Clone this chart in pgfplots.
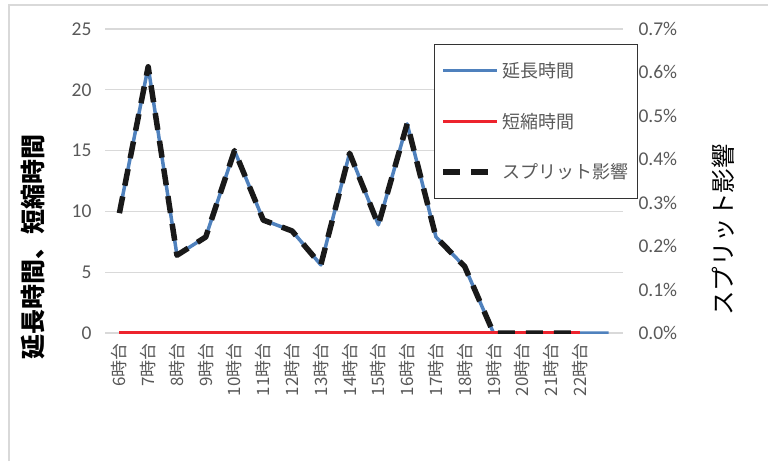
\documentclass[border=0pt]{standalone}
\usepackage{pgfplots}
\pgfplotsset{compat=1.18}
\usepackage{fontspec}
\setmainfont{Carlito}
\newfontfamily\cjk{Noto Sans CJK JP}
\definecolor{gridgray}{RGB}{217,217,217}
\definecolor{txtgray}{RGB}{89,89,89}
\definecolor{lineblue}{RGB}{79,129,189}
\definecolor{linered}{RGB}{237,35,45}
\begin{document}
\begin{tikzpicture}
\path[use as bounding box] (0pt,0pt) rectangle (768pt,461pt);
\draw[gridgray, line width=1.5pt] (9pt,0pt) -- (9pt,456pt) -- (768pt,456pt);
\begin{axis}[
  at={(105pt,128pt)}, anchor=south west, scale only axis,
  width=518pt, height=304pt,
  xmin=-0.5, xmax=17.5, ymin=0, ymax=25,
  xtick={0,...,16},
  xticklabels={6時台,7時台,8時台,9時台,10時台,11時台,12時台,13時台,14時台,15時台,16時台,17時台,18時台,19時台,20時台,21時台,22時台},
  ytick={0,5,10,15,20,25},
  ymajorgrids, grid style={gridgray, line width=1.3pt},
  axis line style={draw=none}, major tick length=0pt,
  /pgf/number format/assume math mode=true,
  yticklabel style={font=\fontsize{19.5}{20}\selectfont, text=txtgray},
  yticklabel shift=10pt,
  xticklabel style={font=\cjk\fontsize{17}{18}\selectfont, text=txtgray, rotate=90, anchor=east},
  xticklabel shift=7pt,
  axis y line*=left,
]
\addplot[lineblue, line width=3.5pt, line join=round] coordinates {
 (0,9.9) (1,21.9) (2,6.4) (3,7.9) (4,15.0) (5,9.3) (6,8.4) (7,5.6) (8,14.8)
 (9,8.9) (10,17.2) (11,7.9) (12,5.45) (13,0) (14,0) (15,0) (16,0) (17,0)};
\addplot[linered, line width=3.5pt] coordinates {
 (0,0) (1,0) (2,0) (3,0) (4,0) (5,0) (6,0) (7,0) (8,0) (9,0) (10,0) (11,0)
 (12,0) (13,0) (14,0) (15,0) (16,0)};
\end{axis}
\begin{axis}[
  at={(105pt,128pt)}, anchor=south west, scale only axis,
  width=518pt, height=304pt,
  xmin=-0.5, xmax=17.5, ymin=0, ymax=0.7,
  axis x line=none, axis y line*=right,
  ytick={0,0.1,0.2,0.3,0.4,0.5,0.6,0.7},
  /pgf/number format/assume math mode=true,
  yticklabel={\pgfmathprintnumber[fixed,fixed zerofill,precision=1]{\tick}\%},
  yticklabel style={font=\fontsize{19.5}{20}\selectfont, text=txtgray},
  yticklabel shift=12pt,
  axis line style={draw=none}, major tick length=0pt,
  legend style={at={(0.635,0.951)}, anchor=north west, draw=black!80, line width=1pt,
    fill=white, font=\cjk\fontsize{18}{18}\selectfont, text=txtgray,
    row sep=28pt, inner xsep=6pt, inner ysep=15pt,
    nodes={inner sep=3pt}},
  legend cell align=left,
  legend image code/.code={\draw[#1] (0pt,0pt) -- (54pt,0pt);},
]
\addlegendimage{lineblue, line width=3.5pt}
\addlegendentry{延長時間}
\addlegendimage{linered, line width=3.5pt}
\addlegendentry{短縮時間}
\addplot[black!90, line width=5.5pt, dash pattern=on 17pt off 11pt, line join=round] coordinates {
 (0,0.276) (1,0.613) (2,0.179) (3,0.221) (4,0.420) (5,0.260) (6,0.235) (7,0.157)
 (8,0.414) (9,0.249) (10,0.482) (11,0.221) (12,0.153) (13,0) (14,0) (15,0) (16,0)};
\addlegendentry{スプリット影響}
\end{axis}
\node[rotate=90, font=\cjk\bfseries\fontsize{25}{25}\selectfont] at (33pt,214pt) {延長時間、短縮時間};
\node[rotate=90, font=\cjk\fontsize{24.5}{25}\selectfont] at (723pt,231pt) {スプリット影響};
\end{tikzpicture}
\end{document}
